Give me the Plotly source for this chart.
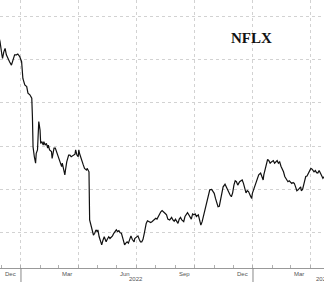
import plotly.graph_objects as go

# NFLX daily close (approx.)
dates = [
    "2021-11-27", "2021-11-29", "2021-12-02", "2021-12-03", "2021-12-05", "2021-12-07", "2021-12-09",
    "2021-12-12", "2021-12-14", "2021-12-17", "2021-12-20", "2021-12-22", "2021-12-25",
    "2021-12-27", "2021-12-30", "2022-01-02", "2022-01-04", "2022-01-07", "2022-01-10",
    "2022-01-12", "2022-01-15", "2022-01-18", "2022-01-19", "2022-01-20", "2022-01-22",
    "2022-01-24", "2022-01-25", "2022-01-27", "2022-01-29", "2022-01-31", "2022-02-01",
    "2022-02-03", "2022-02-05", "2022-02-06", "2022-02-08", "2022-02-10", "2022-02-12",
    "2022-02-13", "2022-02-15", "2022-02-18", "2022-02-19", "2022-02-20", "2022-02-22",
    "2022-02-24", "2022-02-26", "2022-02-28", "2022-03-03", "2022-03-06", "2022-03-07",
    "2022-03-09", "2022-03-11", "2022-03-12", "2022-03-14", "2022-03-17", "2022-03-19",
    "2022-03-21", "2022-03-24", "2022-03-27", "2022-03-28", "2022-03-30", "2022-04-01",
    "2022-04-02", "2022-04-03", "2022-04-06", "2022-04-09", "2022-04-11", "2022-04-14",
    "2022-04-15", "2022-04-16", "2022-04-18", "2022-04-19", "2022-04-21", "2022-04-23",
    "2022-04-25", "2022-04-27", "2022-04-29", "2022-05-01", "2022-05-02", "2022-05-04",
    "2022-05-06", "2022-05-08", "2022-05-10", "2022-05-12", "2022-05-13", "2022-05-15",
    "2022-05-16", "2022-05-19", "2022-05-21", "2022-05-23", "2022-05-25", "2022-05-27",
    "2022-05-29", "2022-05-31", "2022-06-02", "2022-06-04", "2022-06-06", "2022-06-08",
    "2022-06-11", "2022-06-13", "2022-06-15", "2022-06-17", "2022-06-19", "2022-06-21",
    "2022-06-23", "2022-06-25", "2022-06-26", "2022-06-28", "2022-06-29", "2022-07-02",
    "2022-07-04", "2022-07-06", "2022-07-08", "2022-07-10", "2022-07-12", "2022-07-14",
    "2022-07-15", "2022-07-17", "2022-07-19", "2022-07-21", "2022-07-24", "2022-07-26",
    "2022-07-28", "2022-07-30", "2022-08-01", "2022-08-03", "2022-08-05", "2022-08-07",
    "2022-08-09", "2022-08-11", "2022-08-14", "2022-08-16", "2022-08-18", "2022-08-20",
    "2022-08-23", "2022-08-26", "2022-08-28", "2022-08-30", "2022-09-01", "2022-09-03",
    "2022-09-05", "2022-09-07", "2022-09-09", "2022-09-11", "2022-09-14", "2022-09-16",
    "2022-09-18", "2022-09-20", "2022-09-22", "2022-09-24", "2022-09-26", "2022-09-28",
    "2022-09-30", "2022-10-02", "2022-10-04", "2022-10-07", "2022-10-09", "2022-10-11",
    "2022-10-13", "2022-10-15", "2022-10-17", "2022-10-19", "2022-10-21", "2022-10-23",
    "2022-10-25", "2022-10-28", "2022-10-30", "2022-11-01", "2022-11-03", "2022-11-05",
    "2022-11-07", "2022-11-09", "2022-11-11", "2022-11-13", "2022-11-15", "2022-11-18",
    "2022-11-20", "2022-11-22", "2022-11-24", "2022-11-26", "2022-11-28", "2022-11-30",
    "2022-12-02", "2022-12-04", "2022-12-06", "2022-12-08", "2022-12-11", "2022-12-13",
    "2022-12-15", "2022-12-17", "2022-12-19", "2022-12-21", "2022-12-23", "2022-12-25",
    "2022-12-28", "2022-12-30", "2022-12-31", "2023-01-02", "2023-01-04", "2023-01-06",
    "2023-01-08", "2023-01-10", "2023-01-13", "2023-01-15", "2023-01-17", "2023-01-18",
    "2023-01-20", "2023-01-22", "2023-01-24", "2023-01-26", "2023-01-28", "2023-01-30",
    "2023-02-02", "2023-02-04", "2023-02-06", "2023-02-08", "2023-02-10", "2023-02-12",
    "2023-02-14", "2023-02-16", "2023-02-18", "2023-02-20", "2023-02-23", "2023-02-25",
    "2023-02-27", "2023-03-01", "2023-03-03", "2023-03-05", "2023-03-07", "2023-03-09",
    "2023-03-11", "2023-03-13", "2023-03-15", "2023-03-17", "2023-03-18", "2023-03-20",
    "2023-03-23", "2023-03-25", "2023-03-27", "2023-03-29", "2023-03-31", "2023-04-02",
    "2023-04-04", "2023-04-07", "2023-04-09", "2023-04-11", "2023-04-13", "2023-04-15",
    "2023-04-17", "2023-04-19", "2023-04-21", "2023-04-23",
]
prices = [
    655, 643, 612, 604, 619, 627, 612,
    600, 596, 588, 600, 612, 612,
    614, 608, 596, 557, 542, 538,
    523, 519, 511, 468, 398, 375,
    360, 383, 391, 457, 437, 406,
    410, 402, 410, 402, 406, 395,
    402, 391, 387, 371, 383, 395,
    395, 387, 375, 363, 352, 360,
    344, 333, 344, 363, 379, 379,
    375, 379, 381, 391, 379, 375,
    391, 383, 367, 356, 348, 344,
    348, 344, 340, 228, 216, 209,
    193, 197, 205, 201, 205, 189,
    177, 170, 181, 189, 185, 177,
    181, 189, 185, 188, 191, 197,
    201, 205, 201, 203, 198, 197,
    181, 170, 174, 177, 174, 185,
    191, 183, 181, 177, 185, 188,
    191, 183, 177, 177, 183, 197,
    209, 220, 226, 224, 222, 224,
    226, 228, 232, 230, 236, 240,
    247, 250, 247, 243, 240, 230,
    228, 234, 228, 225, 230, 226,
    220, 230, 234, 228, 224, 236,
    242, 245, 240, 234, 230, 242,
    240, 242, 236, 240, 228, 216,
    224, 236, 247, 263, 278, 290,
    298, 299, 294, 290, 278, 267,
    259, 260, 278, 294, 305, 311,
    305, 298, 290, 286, 282, 291,
    309, 319, 317, 309, 317, 319,
    321, 313, 298, 291, 296, 294,
    284, 278, 290, 298, 309, 313,
    321, 333, 337, 329, 321, 333,
    348, 363, 369, 366, 360, 363,
    366, 360, 363, 366, 360, 363,
    353, 348, 340, 329, 321, 317,
    319, 315, 313, 315, 313, 305,
    296, 298, 302, 305, 296, 299,
    317, 329, 330, 337, 344, 348,
    346, 340, 343, 338, 337, 343,
    337, 330, 325, 329,
]

grid_dates = ["2022-01-01", "2022-04-01", "2022-07-01", "2022-10-01", "2023-01-01", "2023-04-01"]
grid_prices = [200, 300, 400, 500, 600, 700]
month_label_dates = ["2021-12-15", "2022-03-15", "2022-06-14", "2022-09-15", "2022-12-15", "2023-03-15"]
month_labels = ["Dec", "Mar", "Jun", "Sep", "Dec", "Mar"]
year_boundaries = ["2022-01-01", "2023-01-01"]
year_label_dates = ["2022-07-01", "2023-04-07"]
year_labels = ["2022", "2023"]
title_text = "NFLX"

fig = go.Figure()
fig.add_trace(go.Scatter(x=dates, y=prices, mode="lines",
                         line=dict(color="#111111", width=1.2), hoverinfo="skip"))

label_font = dict(family="Liberation Sans, Arial, sans-serif", size=6, color="#555555")
annotations = []
for d, t in zip(month_label_dates, month_labels):
    annotations.append(dict(x=d, y=-0.002, xref="x", yref="paper", text=t, showarrow=False,
                            xanchor="center", yanchor="top", font=label_font))
annotations.append(dict(x=year_label_dates[0], y=-0.021, xref="x", yref="paper", text=year_labels[0],
                        showarrow=False, xanchor="center", yanchor="top", font=label_font))
annotations.append(dict(x=year_label_dates[1], y=-0.021, xref="x", yref="paper", text=year_labels[1],
                        showarrow=False, xanchor="left", yanchor="top", font=label_font))
annotations.append(dict(x=0.775, y=0.858, xref="paper", yref="paper", text="<b>%s</b>" % title_text,
                        showarrow=False, xanchor="center", yanchor="middle",
                        font=dict(family="Liberation Serif, Times New Roman, serif", size=15, color="#111111")))

shapes = []
for d in year_boundaries:
    shapes.append(dict(type="line", xref="x", yref="paper", x0=d, x1=d, y0=0, y1=-0.06,
                       line=dict(color="#888888", width=1)))

fig.update_layout(
    width=324, height=282,
    margin=dict(l=0, r=0, t=0, b=14),
    paper_bgcolor="white", plot_bgcolor="white",
    showlegend=False,
    annotations=annotations,
    shapes=shapes,
    xaxis=dict(
        range=["2021-11-29", "2023-04-22 17:00"],
        tickmode="array", tickvals=grid_dates, showticklabels=False,
        ticks="", showgrid=True, gridcolor="#d2d2d2", griddash="dot", gridwidth=1,
        showline=True, linecolor="#999999", linewidth=1,
        zeroline=False,
        minor=dict(ticks="inside", ticklen=3, tickcolor="#b0b0b0", dtick="M1",
                   tick0="2022-01-01", showgrid=False),
    ),
    yaxis=dict(
        range=[116.3, 739.5],
        tickmode="array", tickvals=grid_prices, showticklabels=False,
        showgrid=True, gridcolor="#d2d2d2", griddash="dot", gridwidth=1,
        zeroline=False, showline=False, ticks="",
    ),
)

fig.write_html("out.html")
